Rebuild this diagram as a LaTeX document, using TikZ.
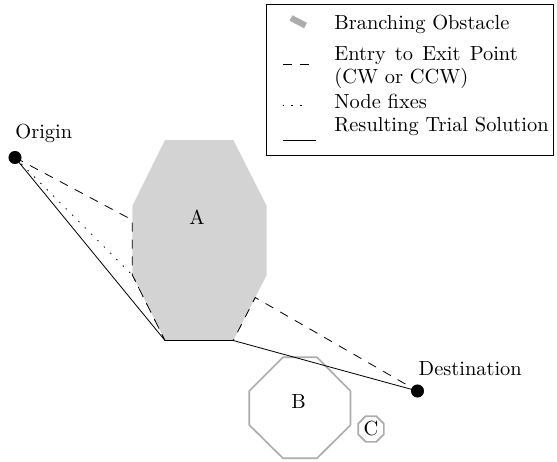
\documentclass[tikz,border=0pt]{standalone}
\usetikzlibrary{shapes.geometric}
\definecolor{obfill}{RGB}{211,211,211}
\definecolor{obline}{RGB}{172,172,172}
\begin{document}
\begin{tikzpicture}[x=0.49pt,y=-0.49pt,
  dashline/.style={dash pattern=on 4.4pt off 3.9pt},
  dotline/.style={dash pattern=on 0.7pt off 3.7pt},
  lbl/.style={anchor=base, inner sep=0pt},
  lgd/.style={anchor=base west, inner sep=0pt},
  dotnode/.style={circle, fill=black, inner sep=0pt, minimum size=6.4pt},
  obstacle/.style={draw=obline, line width=0.8pt, line join=round}]
\useasboundingbox (0,0) rectangle (557,461);
% obstacle A
\coordinate (a1) at (165,140);
\coordinate (a2) at (233.3,140);
\coordinate (a3) at (266.7,206);
\coordinate (a4) at (266.7,275);
\coordinate (a5) at (233.3,340.5);
\coordinate (a6) at (165,340.5);
\coordinate (a7) at (132.3,275);
\coordinate (a8) at (132.3,206);
\fill[obfill] (a1) -- (a2) -- (a3) -- (a4) -- (a5) -- (a6) -- (a7) -- (a8) -- cycle;
\node[lbl] (la) at (197,224.3) {A};
% obstacle B
\coordinate (b1) at (283,357.3);
\coordinate (b2) at (317,357.3);
\coordinate (b3) at (350.5,391);
\coordinate (b4) at (350.5,425);
\coordinate (b5) at (317,458.3);
\coordinate (b6) at (283,458.3);
\coordinate (b7) at (249.3,425);
\coordinate (b8) at (249.3,391);
\draw[obstacle] (b1) -- (b2) -- (b3) -- (b4) -- (b5) -- (b6) -- (b7) -- (b8) -- cycle;
\node[lbl] (lb) at (298.7,408.3) {B};
% obstacle C
\node[regular polygon, regular polygon sides=8, draw=obline, line width=0.8pt,
      minimum size=13.6pt, inner sep=0pt] (c) at (371,429) {C};
% origin / destination
\node[dotnode] (o) at (15,157.5) {};
\node[dotnode] (d) at (417.5,391) {};
\node[lgd] (lo) at (15,138.5) {Origin};
\node[lgd] (ld) at (418.3,375) {Destination};
% entry / exit points
\coordinate (p1) at (132.3,220);
\coordinate (p2) at (255.2,297.5);
% paths
\draw[dashline] (o.center) -- (p1) -- (a7) -- (a6) -- (a5) -- (p2) -- (d.center);
\draw[dotline] (o.center) -- (a7) -- (a6) -- (a5);
\draw (o.center) -- (a6) -- (a5) -- (d.center);
% legend
\coordinate (lg1) at (266,4);
\coordinate (lg2) at (553,155);
\draw (lg1) rectangle (lg2);
\coordinate (s1a) at (291,18); \coordinate (s1b) at (305.5,25.5);
\draw[obline, line width=3pt] (s1a) -- (s1b);
\coordinate (s2a) at (283,64.3); \coordinate (s2b) at (310,64.3);
\draw[dashline] (s2a) -- (s2b);
\coordinate (s3a) at (282.5,105.7); \coordinate (s3b) at (305,105.7);
\draw[dotline] (s3a) -- (s3b);
\coordinate (s4a) at (283,140); \coordinate (s4b) at (316,140);
\draw (s4a) -- (s4b);
\node[lgd] (t1) at (334,29) {Branching Obstacle};
\node[lgd] (t2) at (334,60.7) {Entry\hspace{4.5pt}to\hspace{4.5pt}Exit\hspace{4.5pt}Point};
\node[lgd] (t3) at (334,83.7) {(CW or CCW)};
\node[lgd] (t4) at (334,108) {Node fixes};
\node[lgd] (t5) at (334,131) {Resulting Trial Solution};
\end{tikzpicture}
\end{document}
